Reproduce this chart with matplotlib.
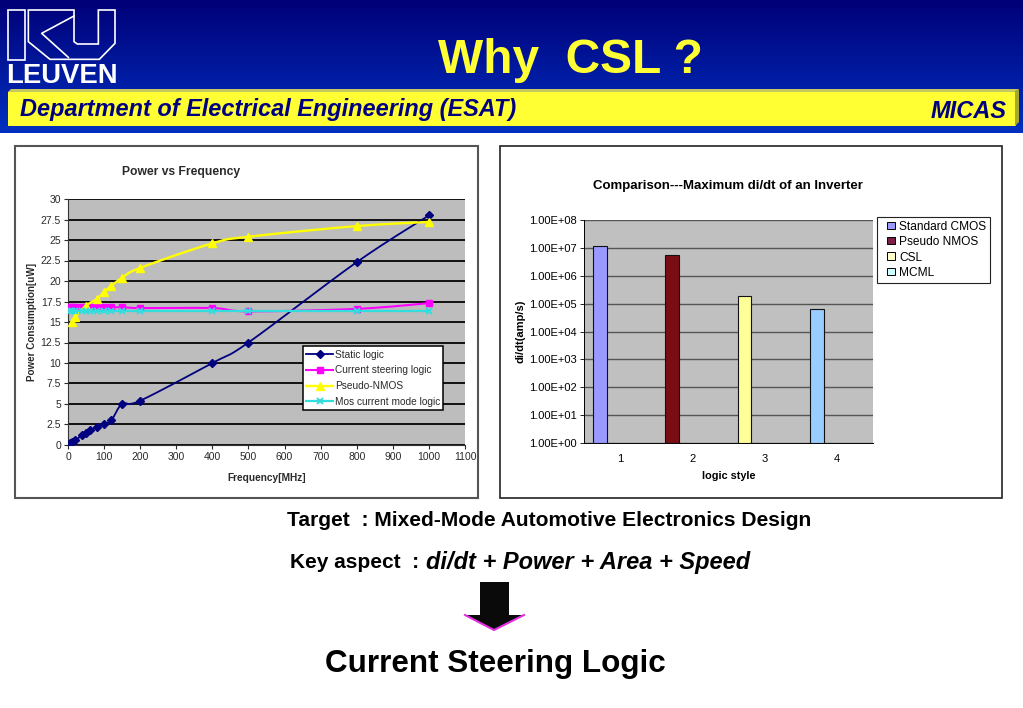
import numpy as np
import matplotlib
matplotlib.use("Agg")
import matplotlib.pyplot as plt
from matplotlib.patches import Rectangle, Polygon, Patch
from matplotlib.lines import Line2D
from matplotlib.legend_handler import HandlerPatch
from matplotlib.colors import LinearSegmentedColormap
from matplotlib.ticker import FixedLocator, FuncFormatter

plt.rcParams['font.family'] = ['Liberation Sans', 'DejaVu Sans']

# ---- data ----
static_x = [5, 10, 20, 40, 50, 60, 80, 100, 120, 150, 200, 400, 500, 800, 1000]
static_y = [0.2, 0.4, 0.6, 1.2, 1.5, 1.8, 2.2, 2.6, 3.0, 5.0, 5.4, 10.0, 12.5, 22.3, 28.0]
csl_x = [5, 10, 20, 40, 50, 60, 80, 100, 120, 150, 200, 400, 500, 800, 1000]
csl_y = [16.8, 16.8, 16.8, 16.8, 16.8, 16.8, 16.8, 16.8, 16.8, 16.8, 16.7, 16.7, 16.3, 16.6, 17.3]
pseudo_x = [10, 20, 50, 80, 100, 120, 150, 200, 400, 500, 800, 1000]
pseudo_y = [15.0, 15.6, 17.0, 17.8, 18.7, 19.4, 20.4, 21.6, 24.6, 25.4, 26.7, 27.2]
mcml_x = [5, 10, 20, 40, 50, 60, 80, 100, 120, 150, 200, 400, 500, 800, 1000]
mcml_y = [16.4, 16.4, 16.4, 16.4, 16.4, 16.4, 16.4, 16.4, 16.4, 16.4, 16.4, 16.4, 16.4, 16.4, 16.4]
series_names = ['Static logic', 'Current steering logic', 'Pseudo-NMOS', 'Mos current mode logic']
freq_ticks = list(range(0, 1101, 100))
power_ticks = [0, 2.5, 5, 7.5, 10, 12.5, 15, 17.5, 20, 22.5, 25, 27.5, 30]

logic_styles = [1, 2, 3, 4]
didt_values = [1.2e7, 5.5e6, 1.9e5, 6.5e4]
didt_names = ['Standard CMOS', 'Pseudo NMOS', 'CSL', 'MCML']
didt_ticks = [1e0, 1e1, 1e2, 1e3, 1e4, 1e5, 1e6, 1e7, 1e8]

W, H = 1023, 708
fig = plt.figure(figsize=(W / 100, H / 100), dpi=100, facecolor='white')

def px_axes(x0, y0, x1, y1, **kw):
    return fig.add_axes([x0 / W, 1 - y1 / H, (x1 - x0) / W, (y1 - y0) / H], **kw)

def smooth(xs, ys, n=16):
    """Excel-style smoothed line through the points (Bezier segments)."""
    p = np.column_stack([xs, ys]).astype(float)
    out = [p[:1]]
    t = np.linspace(0, 1, n)[1:, None]
    for i in range(len(p) - 1):
        a, d = p[i], p[i + 1]
        b = a + (d - p[max(i - 1, 0)]) / 6
        c = d - (p[min(i + 2, len(p) - 1)] - a) / 6
        out.append((1 - t) ** 3 * a + 3 * (1 - t) ** 2 * t * b + 3 * (1 - t) * t ** 2 * c + t ** 3 * d)
    q = np.vstack(out)
    return q[:, 0], q[:, 1]

# ---- page background ----
bg = fig.add_axes([0, 0, 1, 1])
bg.set_xlim(0, W)
bg.set_ylim(H, 0)
bg.axis('off')
cmap = LinearSegmentedColormap.from_list('hdr', ['#000078', '#0030C0'])
bg.imshow(np.linspace(0, 1, 133)[:, None], cmap=cmap, extent=(0, W, 133, 0), aspect='auto', zorder=0)
bg.set_xlim(0, W)
bg.set_ylim(H, 0)

# yellow band with bevel
bg.add_patch(Rectangle((8, 92), 1008, 34, fc='#FFFF33', ec='none', zorder=1))
bg.add_patch(Polygon([(8, 92), (11, 89), (1019, 89), (1015, 92)], fc='#C8C860', ec='none', zorder=2))
bg.add_patch(Polygon([(1015, 92), (1019, 89), (1019, 122), (1015, 126)], fc='#A8A830', ec='none', zorder=2))
bg.text(20, 109.5, 'Department of Electrical Engineering (ESAT)', fontsize=16.95, fontweight='bold',
        style='italic', color='#000080', va='center', ha='left', zorder=3)
bg.text(1007, 112, 'MICAS', fontsize=17, fontweight='bold', style='italic', color='#000080',
        va='center', ha='right', zorder=3)
bg.text(570, 73, 'Why  CSL ?', fontsize=34.5, fontweight='bold', color='#FFFF33', va='baseline', ha='center', zorder=3)

# logo
bg.add_patch(Rectangle((7.5, 10), 17.5, 50, fc='none', ec='white', lw=1.2, zorder=3))
logo_outer = np.array([(85, 30), (222, 30), (222, 125), (232, 132), (295, 132), (295, 30), (345, 30),
                       (345, 130), (298, 178), (150, 178), (85, 125)]) / 3
logo_inner = np.array([(222, 48), (125, 100), (205, 172)]) / 3
bg.add_patch(Polygon(logo_outer, closed=True, fc='none', ec='white', lw=1.2, zorder=3))
bg.plot(logo_inner[:, 0], logo_inner[:, 1], color='white', lw=1.2, zorder=3)
bg.text(62, 83, 'LEUVEN', fontsize=19.8, fontweight='bold', color='white', va='baseline', ha='center', zorder=3)

# chart panels
bg.add_patch(Rectangle((15, 146), 463, 352, fc='white', ec='#555555', lw=1.5, zorder=1))
bg.add_patch(Rectangle((500, 146), 502, 352, fc='white', ec='#222222', lw=1.2, zorder=1))

# ---- bottom text ----
bg.text(287, 520.5, 'Target  : Mixed-Mode Automotive Electronics Design', fontsize=15.1, fontweight='bold',
        va='center', ha='left', color='black')
bg.text(290, 563, 'Key aspect  :', fontsize=15, fontweight='bold', va='center', ha='left', color='black')
bg.text(426, 562.5, 'di/dt + Power + Area + Speed', fontsize=17, fontweight='bold', style='italic',
        va='center', ha='left', color='black')
bg.text(325, 664, 'Current Steering Logic', fontsize=22.6, fontweight='bold', va='center', ha='left', color='black')

# arrow
bg.add_patch(Polygon([(480, 582), (509, 582), (509, 615), (524, 615), (494, 630), (465, 615), (480, 615)],
                     closed=True, fc='#0A0A0A', ec='none', zorder=2))
bg.plot([465, 494, 524], [615, 630, 615], color='#E030E0', lw=1.5, zorder=3)

# ---- left chart ----
ax = px_axes(68, 199, 465, 445)
ax.set_facecolor('#BDBDBD')
tc = '#2A2A2A'
styles = [
    (static_x, static_y, dict(color='#000080', lw=1.3), dict(marker='D', ms=4), 4),
    (csl_x, csl_y, dict(color='#FF00FF', lw=1.5), dict(marker='s', ms=4.5), 4),
    (pseudo_x, pseudo_y, dict(color='#FFFF00', lw=1.7), dict(marker='^', ms=6), 5),
    (mcml_x, mcml_y, dict(color='#33DDDD', lw=1.6), dict(marker='x', ms=5, mew=1.4), 5),
]
legend_lines = []
for (xs, ys, line_kw, mark_kw, z), name in zip(styles, series_names):
    sx, sy = smooth(xs, ys)
    ax.plot(sx, sy, zorder=z, **line_kw)
    ax.plot(xs, ys, ls='none', color=line_kw['color'], zorder=z, **mark_kw)
    legend_lines.append(Line2D([], [], label=name, **line_kw, **mark_kw))
ax.set_xlim(0, 1100)
ax.set_ylim(0, 30)
ax.set_xticks(freq_ticks)
ax.set_yticks(power_ticks)
ax.yaxis.set_major_formatter(FuncFormatter(lambda v, p: f'{v:g}'))
ax.grid(axis='y', color='#111111', lw=1.4)
ax.set_axisbelow(True)
ax.tick_params(axis='both', labelsize=7.5, colors=tc, length=3, width=0.8, pad=2)
for s in ['top', 'right']:
    ax.spines[s].set_visible(False)
for s in ['left', 'bottom']:
    ax.spines[s].set_color('#333333')
ax.set_xlabel('Frequency[MHz]', fontsize=7.3, fontweight='bold', color=tc, labelpad=8)
ax.set_ylabel('Power Consumption[uW]', fontsize=7.1, fontweight='bold', color=tc, labelpad=3)
ax.set_title('Power vs Frequency', fontsize=8.7, fontweight='bold', color=tc, x=0.285, y=1.0, pad=17)
leg = ax.legend(handles=legend_lines, loc='lower left', bbox_to_anchor=(235 / 397, 35 / 246), borderaxespad=0,
                fontsize=7.3, frameon=True, fancybox=False, framealpha=1, edgecolor='black', labelcolor=tc,
                labelspacing=0.56, handlelength=2.65, handletextpad=0.15, borderpad=0.32)
leg.get_frame().set_linewidth(1.1)
leg.set_zorder(10)

# ---- right chart ----
ax2 = px_axes(584, 220, 873, 443)
ax2.set_facecolor('#C0C0C0')
bar_colors = ['#9999FF', '#7A0C14', '#FFFF99', '#99CCFF']
legend_colors = ['#9999FF', '#7A1F45', '#FFFFCC', '#CCFFFF']
offset, width = -0.28, 0.19
ax2.bar(np.array(logic_styles) + offset, didt_values, width=width, bottom=1, color=bar_colors,
        edgecolor='#111111', linewidth=0.8, zorder=3)
ax2.set_yscale('log')
ax2.set_xlim(0.5, 4.5)
ax2.set_ylim(1, 1e8)
ax2.set_xticks(logic_styles)
ax2.yaxis.set_major_locator(FixedLocator(didt_ticks))
ax2.yaxis.set_minor_locator(FixedLocator([]))
ax2.yaxis.set_major_formatter(FuncFormatter(lambda v, p: f'{v:.2E}'))
ax2.grid(axis='y', color='#555555', lw=1.0, zorder=1)
ax2.set_axisbelow(True)
ax2.tick_params(axis='y', labelsize=8, length=3, width=0.6, pad=2)
ax2.tick_params(axis='x', labelsize=8, length=0, pad=8)
for s in ['top', 'right']:
    ax2.spines[s].set_visible(False)
ax2.spines['left'].set_linewidth(0.7)
ax2.spines['bottom'].set_linewidth(0.7)
ax2.set_xlabel('logic style', fontsize=7.8, fontweight='bold', labelpad=5)
ax2.set_ylabel('di/dt(amp/s)', fontsize=8, fontweight='bold', labelpad=3)
ax2.set_title('Comparison---Maximum di/dt of an Inverter', fontsize=9.5, fontweight='bold', x=0.497, pad=22)

def square_handle(legend, orig_handle, xdescent, ydescent, width, height, fontsize):
    return Rectangle((width - 5.2, 0.6), 5.2, 5.2)

handles = [Patch(fc=c, ec='black', lw=0.7) for c in legend_colors]
leg2 = fig.legend(handles, didt_names, loc='upper left', bbox_to_anchor=(877 / W, 1 - 217 / H), borderaxespad=0,
                  fontsize=8.6, fancybox=False, framealpha=1, edgecolor='#222222', labelspacing=0.28,
                  handlelength=1.15, handletextpad=0.38, borderpad=0.32,
                  handler_map={Patch: HandlerPatch(patch_func=square_handle)})
leg2.get_frame().set_linewidth(0.8)

fig.savefig('out.png', dpi=100, facecolor='white')
